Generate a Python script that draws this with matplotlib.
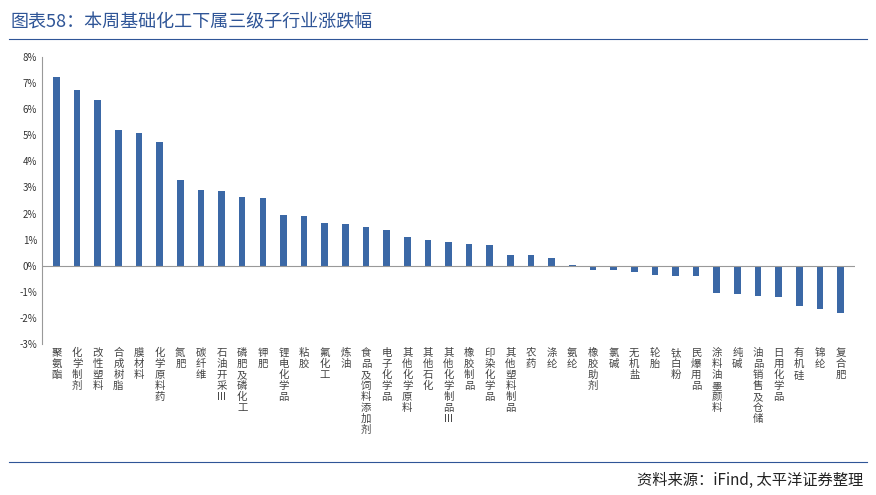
import matplotlib
matplotlib.use("Agg")
import matplotlib.pyplot as plt
from matplotlib.ticker import FuncFormatter

plt.rcParams['font.family'] = ['Noto Sans CJK SC', 'DejaVu Sans']

categories = ["聚氨酯","化学制剂","改性塑料","合成树脂","膜材料","化学原料药","氮肥","碳纤维","石油开采III",
              "磷肥及磷化工","钾肥","锂电化学品","粘胶","氟化工","炼油","食品及饲料添加剂","电子化学品",
              "其他化学原料","其他石化","其他化学制品III","橡胶制品","印染化学品","其他塑料制品","农药","涤纶",
              "氨纶","橡胶助剂","氯碱","无机盐","轮胎","钛白粉","民爆用品","涂料油墨颜料","纯碱",
              "油品销售及仓储","日用化学品","有机硅","锦纶","复合肥"]
values = [7.25,6.75,6.35,5.2,5.1,4.75,3.3,2.9,2.85,2.65,2.6,1.95,1.9,1.62,1.6,1.48,1.35,1.1,1.0,0.92,
          0.82,0.78,0.42,0.4,0.28,0.02,-0.15,-0.18,-0.25,-0.35,-0.38,-0.4,-1.05,-1.1,-1.15,-1.2,-1.55,-1.65,-1.8]

def vert(s):
    if s.endswith("III"):
        parts = list(s[:-3]) + ["III"]
    else:
        parts = list(s)
    return "\n".join(parts)

fig = plt.figure(figsize=(8.76, 4.95), dpi=100)
ax = fig.add_axes([0.048, 0.305, 0.928, 0.58])
x = range(len(values))
ax.bar(x, values, width=0.32, color="#3B68A6")
ax.set_xlim(-0.7, len(values) - 0.3)
ax.set_ylim(-3, 8)
ax.set_yticks(range(-3, 9))
ax.yaxis.set_major_formatter(FuncFormatter(lambda v, p: f"{int(v)}%"))
ax.tick_params(axis='y', labelsize=7, colors="#333333", length=0)
ax.set_xticks([])
for s in ["top", "right", "bottom"]:
    ax.spines[s].set_visible(False)
ax.spines["left"].set_color("#999999")
ax.axhline(0, color="#999999", lw=0.8)
for i, c in enumerate(categories):
    ax.text(i, -3.15, vert(c), ha="center", va="top", fontsize=7.5, color="#444444", linespacing=1.12)

fig.text(0.012, 0.955, "图表58：本周基础化工下属三级子行业涨跌幅", fontsize=13, color="#2F5597", va="center")
fig.add_artist(plt.Line2D([0.01, 0.99], [0.922, 0.922], color="#2F5597", lw=0.8))
fig.add_artist(plt.Line2D([0.01, 0.99], [0.067, 0.067], color="#2F5597", lw=0.8))
fig.text(0.985, 0.03, "资料来源：iFind, 太平洋证券整理", fontsize=11, style="italic", ha="right", va="center", color="#222222")
fig.savefig("out.png", dpi=100)
